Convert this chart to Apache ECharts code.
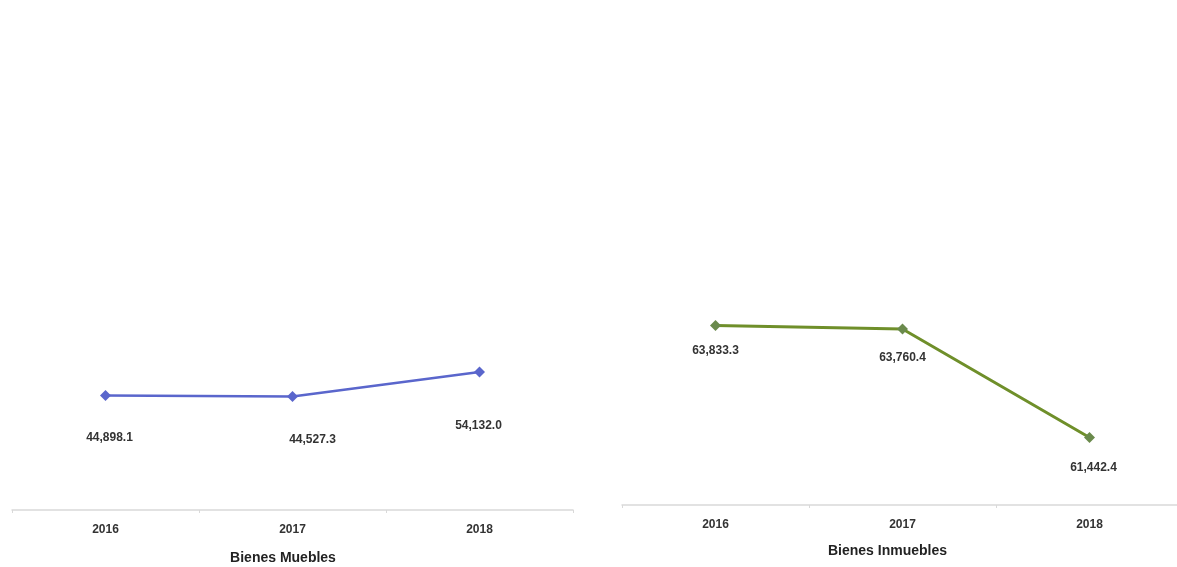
<!DOCTYPE html>
<html>
<head>
<meta charset="utf-8">
<script src="https://cdn.jsdelivr.net/npm/echarts@6/dist/echarts.min.js"></script>
<style>
html,body{margin:0;padding:0;background:#fff;}
#c{width:1177px;height:567px;}
</style>
</head>
<body>
<div id="c"></div>
<script>
const years = ['2016', '2017', '2018'];
const mueblesValues = [44898.1, 44527.3, 54132.0];
const inmueblesValues = [63833.3, 63760.4, 61442.4];
const mueblesTitle = 'Bienes Muebles';
const inmueblesTitle = 'Bienes Inmuebles';

const FONT = '"Liberation Sans Narrow", "Liberation Sans", Arial, sans-serif';
const fmt = v => v.toLocaleString('en-US', {minimumFractionDigits: 1, maximumFractionDigits: 1});

const mueblesLabelOffsets = [[4, 26], [20, 27], [-1, 37]];
const inmueblesLabelOffsets = [[0, 9], [0, 12], [4, 14]];

function buildData(values, offsets) {
  return values.map((v, i) => ({
    value: v,
    label: { offset: offsets[i] }
  }));
}

function xAxisCfg(gridIndex, name, namePad, gap) {
  return {
    type: 'category', gridIndex: gridIndex, data: years, boundaryGap: true,
    axisLine: { show: true, lineStyle: { color: '#d9d9d9', width: 1.5 } },
    axisTick: { show: true, length: 3, lineStyle: { color: '#d9d9d9' } },
    axisLabel: { margin: 14, color: '#333', fontFamily: FONT, fontSize: 12, fontWeight: 'bold' },
    name: name, nameLocation: 'middle', nameGap: gap,
    nameTextStyle: { color: '#222', fontFamily: FONT, fontSize: 14, fontWeight: 'bold', padding: namePad }
  };
}

const chart = echarts.init(document.getElementById('c'), null, { renderer: 'canvas' });
chart.setOption({
  animation: false,
  backgroundColor: '#ffffff',
  grid: [
    { left: 12, width: 561, top: 0, bottom: 57, outerBoundsMode: 'none', containLabel: false },
    { left: 622, width: 561, top: 37, bottom: 62, outerBoundsMode: 'none', containLabel: false }
  ],
  xAxis: [
    xAxisCfg(0, mueblesTitle, [0, 19, 0, 0], 41),
    xAxisCfg(1, inmueblesTitle, [0, 30, 0, 0], 39)
  ],
  yAxis: [
    { type: 'value', gridIndex: 0, min: 0, max: 200000, show: false, splitLine: { show: false } },
    { type: 'value', gridIndex: 1, min: 60000, max: 70000, show: false, splitLine: { show: false } }
  ],
  series: [
    {
      type: 'line', xAxisIndex: 0, yAxisIndex: 0,
      data: buildData(mueblesValues, mueblesLabelOffsets),
      symbol: 'diamond', symbolSize: 11,
      lineStyle: { color: '#5a66cc', width: 2.5 },
      itemStyle: { color: '#5a66cc' },
      label: { show: true, position: 'bottom', color: '#333', fontFamily: FONT, fontSize: 12, fontWeight: 'bold',
        formatter: p => fmt(p.value) }
    },
    {
      type: 'line', xAxisIndex: 1, yAxisIndex: 1,
      data: buildData(inmueblesValues, inmueblesLabelOffsets),
      symbol: 'diamond', symbolSize: 11,
      lineStyle: { color: '#6f8f2a', width: 3 },
      itemStyle: { color: '#6a8a4c' },
      label: { show: true, position: 'bottom', color: '#333', fontFamily: FONT, fontSize: 12, fontWeight: 'bold',
        formatter: p => fmt(p.value) }
    }
  ]
});
</script>
</body>
</html>
